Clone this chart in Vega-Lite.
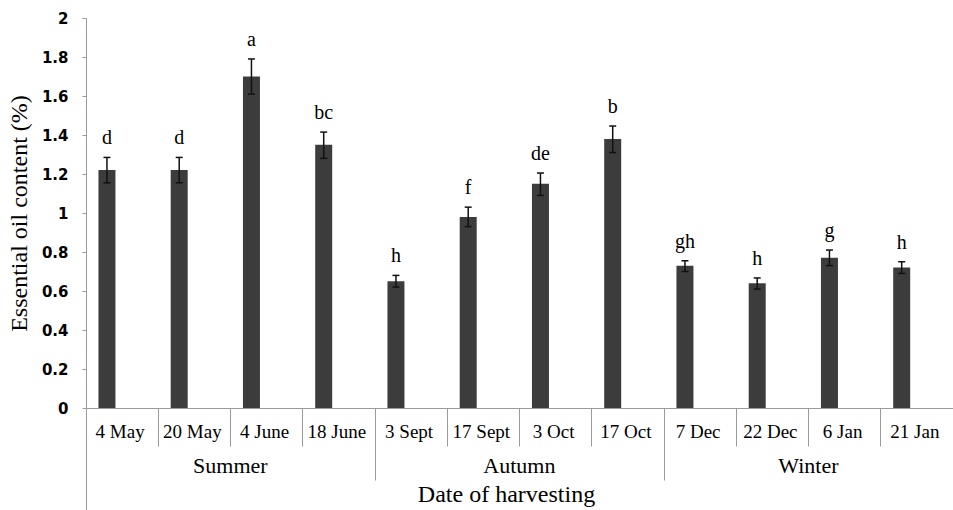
{
  "$schema": "https://vega.github.io/schema/vega-lite/v6.json",
  "width": 867,
  "height": 390,
  "autosize": "none",
  "padding": {"left": 86, "top": 18, "right": 0, "bottom": 102},
  "background": "white",
  "config": {
    "view": {"stroke": null},
    "axis": {"labelColor": "#000", "titleColor": "#000", "domainColor": "#9a9a9a", "tickColor": "#9a9a9a", "grid": false}
  },
  "data": {
    "values": [
      {"date": "4 May", "season": "Summer", "oil": 1.22, "lo": 1.155, "hi": 1.285, "letter": "d"},
      {"date": "20 May", "season": "Summer", "oil": 1.22, "lo": 1.155, "hi": 1.285, "letter": "d"},
      {"date": "4 June", "season": "Summer", "oil": 1.70, "lo": 1.61, "hi": 1.79, "letter": "a"},
      {"date": "18 June", "season": "Summer", "oil": 1.35, "lo": 1.28, "hi": 1.415, "letter": "bc"},
      {"date": "3 Sept", "season": "Autumn", "oil": 0.65, "lo": 0.62, "hi": 0.68, "letter": "h"},
      {"date": "17 Sept", "season": "Autumn", "oil": 0.98, "lo": 0.93, "hi": 1.03, "letter": "f"},
      {"date": "3 Oct", "season": "Autumn", "oil": 1.15, "lo": 1.09, "hi": 1.205, "letter": "de"},
      {"date": "17 Oct", "season": "Autumn", "oil": 1.38, "lo": 1.31, "hi": 1.446, "letter": "b"},
      {"date": "7 Dec", "season": "Winter", "oil": 0.73, "lo": 0.70, "hi": 0.755, "letter": "gh"},
      {"date": "22 Dec", "season": "Winter", "oil": 0.64, "lo": 0.61, "hi": 0.667, "letter": "h"},
      {"date": "6 Jan", "season": "Winter", "oil": 0.77, "lo": 0.73, "hi": 0.81, "letter": "g"},
      {"date": "21 Jan", "season": "Winter", "oil": 0.72, "lo": 0.69, "hi": 0.75, "letter": "h"}
    ]
  },
  "resolve": {"axis": {"x": "independent", "y": "independent"}},
  "layer": [
    {
      "mark": {"type": "rule", "strokeWidth": 17, "color": "#3c3c3c"},
      "encoding": {
        "x": {
          "field": "date", "type": "nominal", "sort": null, "bandPosition": 0.29,
          "scale": {"paddingInner": 0, "paddingOuter": 0},
          "axis": {
            "orient": "bottom", "bandPosition": 0, "tickSize": 38, "labelAngle": 0,
            "labelFont": "Liberation Serif", "labelFontSize": 19, "labelBaseline": "alphabetic",
            "labelPadding": -9, "labelAlign": "center", "labelOffset": -2,
            "title": "Date of harvesting", "titleFont": "Liberation Serif", "titleFontSize": 24,
            "titleFontWeight": "normal", "titleBaseline": "alphabetic", "titleY": 93, "titleX": 420
          }
        },
        "y": {
          "field": "oil", "type": "quantitative",
          "scale": {"domain": [0, 2], "nice": false},
          "axis": {
            "values": [0, 0.2, 0.4, 0.6, 0.8, 1, 1.2, 1.4, 1.6, 1.8, 2],
            "format": ".1~f", "tickSize": 4, "labelPadding": 14,
            "labelFont": "DejaVu Sans", "labelFontWeight": "bold", "labelFontSize": 15,
            "title": "Essential oil content (%)", "titleFont": "Liberation Serif", "titleFontSize": 24,
            "titleFontWeight": "normal", "titlePadding": 10
          }
        },
        "y2": {"datum": 0}
      }
    },
    {
      "mark": {"type": "rule", "strokeWidth": 1.5, "color": "#111"},
      "encoding": {
        "x": {
          "field": "date", "type": "nominal", "sort": null, "bandPosition": 0.29,
          "axis": {"orient": "bottom", "values": ["3 Sept", "7 Dec"], "bandPosition": 0, "tickSize": 72, "labels": false, "domain": false, "title": null}
        },
        "y": {"field": "lo", "type": "quantitative", "axis": null},
        "y2": {"field": "hi"}
      }
    },
    {
      "transform": [{"fold": ["lo", "hi"], "as": ["end", "val"]}],
      "mark": {"type": "point", "shape": "M-1,0L1,0", "size": 49, "filled": false, "strokeWidth": 1.5, "color": "#111", "opacity": 1},
      "encoding": {
        "x": {
          "field": "date", "type": "nominal", "sort": null, "bandPosition": 0.29,
          "axis": {"orient": "bottom", "values": ["4 May"], "bandPosition": 0, "tickSize": 102, "labels": false, "domain": false, "title": null}
        },
        "y": {"field": "val", "type": "quantitative", "axis": null}
      }
    },
    {
      "mark": {"type": "text", "font": "Liberation Serif", "fontSize": 20, "baseline": "alphabetic", "dy": -13, "color": "#000"},
      "encoding": {
        "x": {
          "field": "date", "type": "nominal", "sort": null, "bandPosition": 0.29,
          "axis": {
            "orient": "bottom", "values": ["20 May", "17 Sept", "22 Dec"], "ticks": false, "domain": false,
            "labelExpr": "datum.value == '20 May' ? 'Summer' : datum.value == '17 Sept' ? 'Autumn' : 'Winter'",
            "labelOffset": 36, "labelAngle": 0, "labelFont": "Liberation Serif", "labelFontSize": 22,
            "labelBaseline": "alphabetic", "labelPadding": 64, "title": null
          }
        },
        "y": {"field": "hi", "type": "quantitative", "axis": null},
        "text": {"field": "letter"}
      }
    }
  ]
}
